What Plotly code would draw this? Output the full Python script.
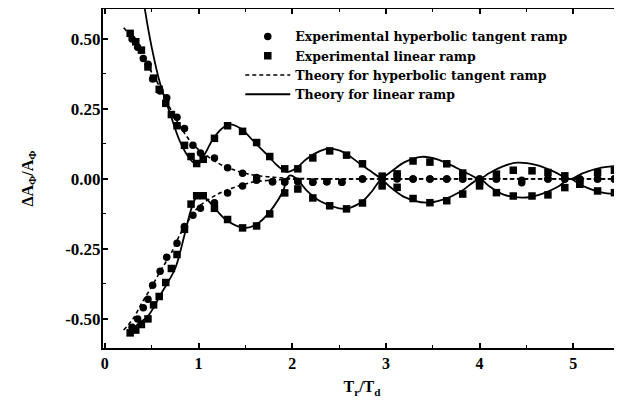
import plotly.graph_objects as go

# ---- data ----
# Experimental linear ramp (squares)
lin_x = [0.27, 0.33, 0.39, 0.46, 0.52, 0.58, 0.65, 0.71, 0.77, 0.85, 0.92, 0.98, 1.05, 1.17,
         1.31, 1.47, 1.62, 1.76, 1.92, 2.06, 2.22, 2.40, 2.58, 2.75, 2.96, 3.12, 3.29, 3.47,
         3.65, 3.82, 4.00, 4.18, 4.36, 4.56, 4.73, 4.91, 5.07, 5.26, 5.44]
lin_up = [0.52, 0.49, 0.46, 0.40, 0.36, 0.32, 0.27, 0.23, 0.19, 0.12, 0.08, 0.055, 0.07, 0.145,
          0.19, 0.17, 0.13, 0.08, 0.036, 0.036, 0.075, 0.10, 0.085, 0.054, 0.01, 0.018, 0.064, 0.06,
          0.054, 0.021, -0.01, 0.017, 0.031, 0.029, 0.023, 0.011, -0.007, 0.023, 0.031]
lin_lo = [-0.55, -0.54, -0.52, -0.50, -0.45, -0.42, -0.37, -0.32, -0.27, -0.18, -0.09, -0.06, -0.06, -0.105,
          -0.145, -0.175, -0.168, -0.125, -0.05, -0.036, -0.068, -0.096, -0.107, -0.086, -0.025, -0.03, -0.07, -0.085,
          -0.078, -0.054, -0.025, -0.049, -0.061, -0.061, -0.057, -0.031, -0.019, -0.043, -0.049]

# Experimental hyperbolic tangent ramp (circles)
tanh_x = [0.29, 0.35, 0.41, 0.46, 0.51, 0.59, 0.66, 0.77, 0.85, 0.94, 1.02, 1.17, 1.31, 1.47,
          1.62, 1.79, 1.92, 2.06, 2.22, 2.37, 2.53, 2.75, 2.96, 3.12, 3.29, 3.47, 3.65, 3.82,
          4.00, 4.18, 4.45, 4.73, 4.91, 5.07, 5.26, 5.44]
tanh_up = [0.50, 0.47, 0.43, 0.41, 0.357, 0.314, 0.29, 0.22, 0.18, 0.12, 0.093, 0.075, 0.04, 0.02,
           0.005, -0.01, -0.01, -0.008, -0.012, -0.01, -0.012, 0.0, 0.0, 0.015, 0.0, 0.0, 0.0, 0.0,
           0.0, 0.0, -0.014, 0.0, 0.0, 0.0, 0.0, 0.0]
tanh_lo = [-0.53, -0.50, -0.46, -0.43, -0.38, -0.33, -0.28, -0.23, -0.17, -0.13, -0.105, -0.085, -0.05, -0.025,
           -0.005, -0.01, -0.012, -0.01, -0.012, -0.01, -0.012, 0.0, 0.0, 0.0, 0.0, 0.0, 0.0, 0.0,
           0.0, 0.0, -0.005, 0.0, 0.0, 0.0, 0.0, 0.0]

# Theory for hyperbolic tangent ramp (dashed)
th_tanh_x = [0.2, 0.3, 0.4, 0.5, 0.6, 0.7, 0.8, 0.9, 1.0, 1.1, 1.2, 1.3, 1.4, 1.5, 1.6, 1.8,
             2.0, 2.5, 3.0, 3.5, 4.0, 4.5, 5.0, 5.5]
th_tanh_up = [0.54, 0.50, 0.44, 0.38, 0.32, 0.25, 0.19, 0.14, 0.105, 0.08, 0.058, 0.042, 0.03, 0.02,
              0.013, 0.006, 0.002, 0.0, 0.0, 0.0, 0.0, 0.0, 0.0, 0.0]
th_tanh_lo = [-0.54, -0.50, -0.44, -0.385, -0.325, -0.27, -0.20, -0.145, -0.10, -0.075, -0.055, -0.04, -0.028, -0.018,
              -0.01, -0.004, -0.001, 0.0, 0.0, 0.0, 0.0, 0.0, 0.0, 0.0]

# Theory for linear ramp (solid)
th_lin_up_x = [0.38, 0.43, 0.5, 0.59, 0.7, 0.8, 0.9, 0.97, 1.05, 1.15, 1.25, 1.33, 1.45, 1.6, 1.75,
               1.85, 1.95, 2.05, 2.15, 2.3, 2.4, 2.55, 2.7, 2.85, 2.95, 3.05, 3.2, 3.38, 3.55, 3.75,
               3.9, 4.0, 4.1, 4.25, 4.4, 4.6, 4.8, 4.96, 5.1, 5.3, 5.5]
th_lin_up = [0.72, 0.60, 0.47, 0.34, 0.23, 0.135, 0.075, 0.054, 0.08, 0.14, 0.18, 0.195, 0.18, 0.13, 0.08,
             0.045, 0.025, 0.04, 0.07, 0.10, 0.108, 0.095, 0.06, 0.025, 0.005, 0.025, 0.06, 0.079, 0.07, 0.04,
             0.015, 0.0, 0.02, 0.045, 0.058, 0.05, 0.025, 0.0, 0.02, 0.04, 0.047]
th_lin_lo_x = [0.27, 0.35, 0.46, 0.6, 0.75, 0.85, 0.93, 1.0, 1.08, 1.2, 1.31, 1.5, 1.65, 1.8, 1.9,
               1.97, 2.05, 2.15, 2.3, 2.5, 2.6, 2.75, 2.85, 2.95, 3.05, 3.2, 3.43, 3.6, 3.8, 3.92,
               4.0, 4.1, 4.25, 4.46, 4.65, 4.85, 4.96, 5.1, 5.3, 5.5]
th_lin_lo = [-0.55, -0.52, -0.49, -0.41, -0.32, -0.20, -0.10, -0.055, -0.07, -0.115, -0.15, -0.175, -0.155, -0.10, -0.045,
             0.012, 0.0, -0.04, -0.08, -0.105, -0.105, -0.08, -0.045, -0.005, -0.03, -0.065, -0.085, -0.075, -0.045, -0.015,
             0.0, -0.025, -0.055, -0.067, -0.055, -0.025, 0.0, -0.025, -0.048, -0.055]

names = ["Experimental hyperbolic tangent ramp", "Experimental linear ramp",
         "Theory for hyperbolic tangent ramp", "Theory for linear ramp"]

y_tickvals = [-0.5, -0.25, 0.0, 0.25, 0.5]
y_ticktext = ["-0.50", "-0.25", "0.00", "0.25", "0.50"]
x_tickvals = [0, 1, 2, 3, 4, 5]
x_ticktext = ["0", "1", "2", "3", "4", "5"]

FONT = "Liberation Serif"
LEG_FONT = "DejaVu Serif"
MS = 7.5
fig = go.Figure()

# legend-bearing traces (upper branches) in legend order
fig.add_trace(go.Scatter(x=tanh_x, y=tanh_up, mode="markers", name=names[0],
                         marker=dict(symbol="circle", size=MS, color="black"), legendgroup="a"))
fig.add_trace(go.Scatter(x=lin_x, y=lin_up, mode="markers", name=names[1],
                         marker=dict(symbol="square", size=MS, color="black"), legendgroup="b"))
fig.add_trace(go.Scatter(x=th_tanh_x, y=th_tanh_up, mode="lines", name=names[2], line_shape="spline",
                         line=dict(color="black", width=1.6, dash="4px,3px"), legendgroup="c"))
fig.add_trace(go.Scatter(x=th_lin_up_x, y=th_lin_up, mode="lines", name=names[3], line_shape="spline",
                         line=dict(color="black", width=1.8), legendgroup="d"))
# lower branches
fig.add_trace(go.Scatter(x=tanh_x, y=tanh_lo, mode="markers", showlegend=False,
                         marker=dict(symbol="circle", size=MS, color="black"), legendgroup="a"))
fig.add_trace(go.Scatter(x=lin_x, y=lin_lo, mode="markers", showlegend=False,
                         marker=dict(symbol="square", size=MS, color="black"), legendgroup="b"))
fig.add_trace(go.Scatter(x=th_tanh_x, y=th_tanh_lo, mode="lines", showlegend=False, line_shape="spline",
                         line=dict(color="black", width=1.6, dash="4px,3px"), legendgroup="c"))
fig.add_trace(go.Scatter(x=th_lin_lo_x, y=th_lin_lo, mode="lines", showlegend=False, line_shape="spline",
                         line=dict(color="black", width=1.8), legendgroup="d"))

axis_common = dict(showline=True, linecolor="black", linewidth=2, mirror="ticks",
                   ticks="inside", ticklen=5, tickwidth=1.5, tickcolor="black",
                   showgrid=False, zeroline=False, automargin=False)

fig.update_xaxes(range=[-0.02, 5.51], tickmode="array", tickvals=x_tickvals, ticktext=x_ticktext,
                 **axis_common,
                 tickfont=dict(family=FONT, size=16, color="black", weight="bold"),
                 minor=dict(dtick=0.5, tick0=0, ticks="inside", ticklen=3, tickcolor="black", tickwidth=1.2),
                 title=dict(text="T<sub>r</sub>/T<sub>d</sub>", standoff=10,
                            font=dict(family=FONT, size=16, color="black", weight="bold")))
fig.update_yaxes(range=[-0.604, 0.607], tickmode="array", tickvals=y_tickvals, ticktext=y_ticktext,
                 **axis_common, ticklabelstandoff=-3,
                 tickfont=dict(family=FONT, size=17, color="black", weight="bold"),
                 minor=dict(dtick=0.125, tick0=0, ticks="inside", ticklen=3, tickcolor="black", tickwidth=1.2),
                 title=dict(text="ΔA<sub>Φ</sub>/A<sub>Φ</sub>", standoff=28,
                            font=dict(family=FONT, size=16, color="black", weight="bold")))

# the page is shown with an 8px body margin, so the figure is sized/offset to land
# the plot box where the reference has it
fig.update_layout(
    width=614, height=396,
    margin=dict(l=95, r=1, t=1, b=56),
    paper_bgcolor="white", plot_bgcolor="white",
    showlegend=True,
    legend=dict(x=0.265, y=0.962, xanchor="left", yanchor="top", bgcolor="rgba(0,0,0,0)",
                borderwidth=0, itemwidth=45, tracegroupgap=0,
                font=dict(family=LEG_FONT, size=12.5, color="black", weight="bold")),
)

fig.write_html("out.html")
